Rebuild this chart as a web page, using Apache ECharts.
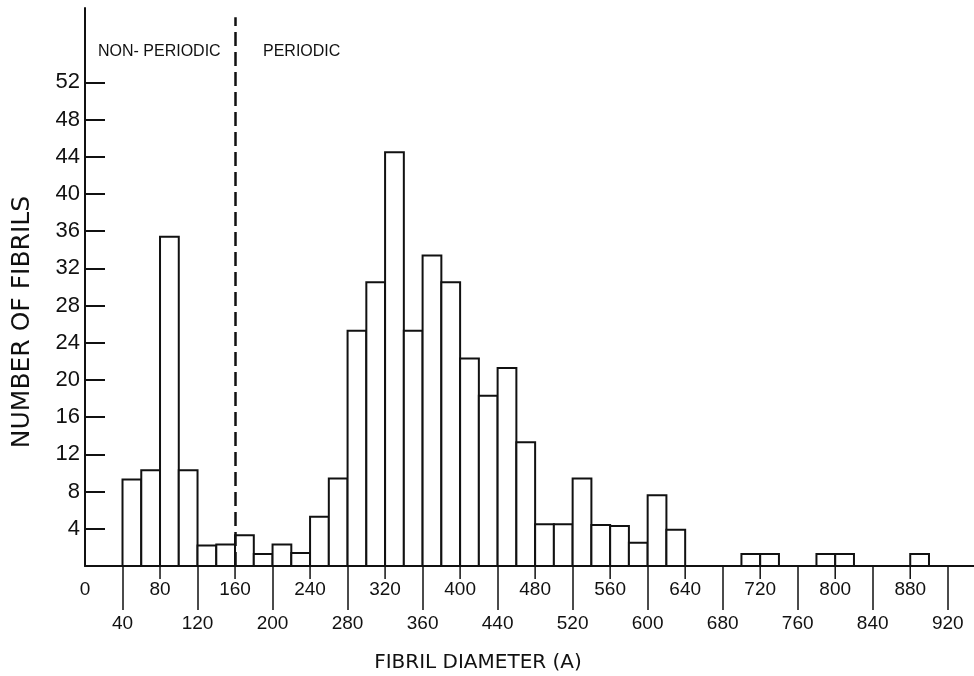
<!DOCTYPE html>
<html>
<head>
<meta charset="utf-8">
<script src="https://cdn.jsdelivr.net/npm/echarts@6/dist/echarts.min.js"></script>
<style>
html,body{margin:0;padding:0;background:#fff;}
#chart{width:974px;height:676px;}
</style>
</head>
<body>
<div id="chart"></div>
<script>
// ---- data ----
const binStart = [40,60,80,100,120,140,160,180,200,220,240,260,280,300,320,340,360,380,400,420,440,460,480,500,520,540,560,580,600,620,700,720,780,800,880];
const counts   = [9.3,10.3,35.4,10.3,2.2,2.3,3.3,1.3,2.3,1.4,5.3,9.4,25.3,30.5,44.5,25.3,33.4,30.5,22.3,18.3,21.3,13.3,4.5,4.5,9.4,4.4,4.3,2.5,7.6,3.9,1.3,1.3,1.3,1.3,1.3];
const binWidth = 20;
const xLabelValues = [0,40,80,120,160,200,240,280,320,360,400,440,480,520,560,600,640,680,720,760,800,840,880,920];
const xLongTicks = [40,120,200,280,360,440,520,600,680,760,840,920];
const xShortTicks = [80,160,240,320,400,480,560,640,720,800,880];
const yTickValues = [4,8,12,16,20,24,28,32,36,40,44,48,52];
const boundary = 160;
const boundaryTop = 59;
const regionLabels = ['NON- PERIODIC', 'PERIODIC'];
const xTitle = 'FIBRIL DIAMETER (A)';
const yTitle = 'NUMBER OF FIBRILS';

const chart = echarts.init(document.getElementById('chart'), null, {renderer: 'canvas'});
const ink = '#111';
const barData = binStart.map((s, i) => [s, s + binWidth, counts[i]]);

chart.setOption({
  animation: false,
  backgroundColor: '#fff',
  grid: {left: 85, right: 0, top: 8, bottom: 110},
  xAxis: {
    type: 'value', min: 0, max: 948, interval: 40,
    splitLine: {show: false},
    axisLine: {show: true, lineStyle: {color: ink, width: 2}},
    axisTick: {show: true, customValues: xLongTicks, length: 44, lineStyle: {color: ink, width: 1.5}},
    axisLabel: {
      customValues: xLabelValues, margin: 7, lineHeight: 34,
      fontFamily: 'Liberation Sans', fontSize: 19, color: ink,
      formatter: v => (v % 80 === 0 ? String(v) : '\n' + v)
    }
  },
  yAxis: {
    type: 'value', min: 0, max: 60, interval: 4,
    splitLine: {show: false},
    axisLine: {show: true, lineStyle: {color: ink, width: 2}},
    axisTick: {show: true, inside: true, length: 20, customValues: yTickValues, lineStyle: {color: ink, width: 2}},
    axisLabel: {customValues: yTickValues, margin: 5, fontFamily: 'Liberation Sans', fontSize: 22, color: ink}
  },
  series: [
    {
      type: 'custom',
      data: barData,
      clip: false,
      renderItem: function (params, api) {
        const p0 = api.coord([api.value(0), api.value(2)]);
        const p1 = api.coord([api.value(1), 0]);
        return {
          type: 'rect',
          shape: {x: p0[0], y: p0[1], width: p1[0] - p0[0], height: p1[1] - p0[1]},
          style: {fill: '#fff', stroke: ink, lineWidth: 2}
        };
      },
      markLine: {
        silent: true, symbol: 'none', label: {show: false},
        lineStyle: {color: ink, width: 2.5, type: [14, 6]},
        data: [[{coord: [boundary, 0]}, {coord: [boundary, boundaryTop]}]]
      },
      z: 3
    },
    {
      type: 'custom',
      data: xShortTicks.map(v => [v]),
      clip: false,
      renderItem: function (params, api) {
        const p = api.coord([api.value(0), 0]);
        return {
          type: 'line',
          shape: {x1: p[0], y1: p[1], x2: p[0], y2: p[1] + 13},
          style: {stroke: ink, lineWidth: 1.5}
        };
      },
      z: 4
    }
  ],
  graphic: [
    {type: 'text', left: 98, top: 44, style: {text: regionLabels[0], fontFamily: 'Liberation Sans', fontSize: 16, fill: ink}},
    {type: 'text', left: 263, top: 44, style: {text: regionLabels[1], fontFamily: 'Liberation Sans', fontSize: 16, fill: ink}},
    {type: 'text', x: 478, y: 663, style: {text: xTitle, fontFamily: 'DejaVu Sans', fontSize: 20, fill: ink, align: 'center', verticalAlign: 'middle'}},
    {type: 'text', x: 22, y: 322, rotation: Math.PI / 2, style: {text: yTitle, fontFamily: 'DejaVu Sans', fontSize: 25, fill: ink, align: 'center', verticalAlign: 'middle'}}
  ]
});
</script>
</body>
</html>
